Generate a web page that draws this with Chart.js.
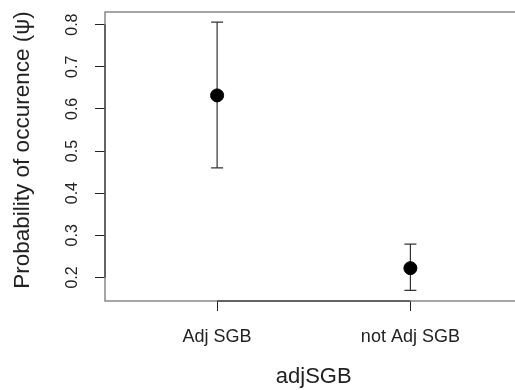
<!DOCTYPE html>
<html>
<head>
<meta charset="utf-8">
<script src="https://cdn.jsdelivr.net/npm/chart.js@4/dist/chart.umd.min.js"></script>
<style>
  html, body { margin: 0; padding: 0; background: #fff; overflow: hidden; }
  #wrap { width: 530px; height: 390px; }
</style>
</head>
<body>
<div id="wrap"><canvas id="myChart"></canvas></div>
<script>
const categories = ['Adj SGB', 'not Adj SGB'];
const psi = [0.632, 0.222];
const lower = [0.460, 0.169];
const upper = [0.806, 0.279];
const yTicks = [0.2, 0.3, 0.4, 0.5, 0.6, 0.7, 0.8];
const yTitle = 'Probability of occurence (ψ)';

const FONT = "'Liberation Sans', Arial, sans-serif";
const INK = '#222';

// box, axis lines, rotated y labels/title and error bars
const rStyle = {
  id: 'rStyle',
  beforeDatasetsDraw(chart) {
    const { ctx, chartArea: a, scales: { x, y } } = chart;
    ctx.save();
    // grey frame (right side runs off the canvas)
    ctx.strokeStyle = '#888';
    ctx.lineWidth = 1.5;
    ctx.strokeRect(a.left, a.top, a.right - a.left, a.bottom - a.top);
    // axis lines between first and last tick
    ctx.strokeStyle = INK;
    ctx.lineWidth = 1;
    ctx.beginPath();
    ctx.moveTo(a.left, y.getPixelForValue(yTicks[0]));
    ctx.lineTo(a.left, y.getPixelForValue(yTicks[yTicks.length - 1]));
    ctx.moveTo(x.getPixelForValue(1), a.bottom);
    ctx.lineTo(x.getPixelForValue(categories.length), a.bottom);
    ctx.stroke();
    // y tick labels, rotated like R's las=0
    ctx.fillStyle = INK;
    ctx.textAlign = 'center';
    ctx.textBaseline = 'middle';
    ctx.font = '16px ' + FONT;
    yTicks.forEach(v => {
      ctx.save();
      ctx.translate(73, y.getPixelForValue(v));
      ctx.rotate(-Math.PI / 2);
      ctx.fillText(v.toFixed(1), 0, 0);
      ctx.restore();
    });
    // y axis title
    ctx.save();
    ctx.font = '22.5px ' + FONT;
    ctx.translate(23, 150);
    ctx.rotate(-Math.PI / 2);
    ctx.fillText(yTitle, 0, 0);
    ctx.restore();
    // confidence intervals
    ctx.strokeStyle = '#333';
    ctx.lineWidth = 1.2;
    categories.forEach((c, i) => {
      const px = x.getPixelForValue(i + 1);
      const lo = y.getPixelForValue(lower[i]);
      const hi = y.getPixelForValue(upper[i]);
      ctx.beginPath();
      ctx.moveTo(px, lo); ctx.lineTo(px, hi);
      ctx.moveTo(px - 6, lo); ctx.lineTo(px + 6, lo);
      ctx.moveTo(px - 6, hi); ctx.lineTo(px + 6, hi);
      ctx.stroke();
    });
    ctx.restore();
  }
};

const data = {
  datasets: [{
    data: psi.map((v, i) => ({ x: i + 1, y: v })),
    backgroundColor: '#000',
    borderColor: '#000',
    pointRadius: 6.5,
    pointHoverRadius: 6.5,
  }]
};

const config = {
  type: 'scatter',
  data: data,
  options: {
    responsive: true,
    maintainAspectRatio: false,
    animation: false,
    layout: { padding: { top: 12, right: 7, left: 0, bottom: 0 } },
    plugins: { legend: { display: false }, tooltip: { enabled: false } },
    scales: {
      x: {
        type: 'linear',
        min: 0.42,
        max: 2.58,
        afterBuildTicks: s => { s.ticks = categories.map((c, i) => ({ value: i + 1 })); },
        afterFit: s => { s.height = 89; },
        ticks: {
          callback: v => categories[v - 1],
          font: { family: FONT, size: 18 },
          color: INK,
          padding: 15,
          maxRotation: 0,
          autoSkip: false,
        },
        grid: { drawOnChartArea: false, drawTicks: true, tickLength: 10, color: INK },
        border: { display: false },
        title: {
          display: true,
          text: 'adjSGB',
          font: { family: FONT, size: 22 },
          color: INK,
          padding: { top: 0, bottom: 0 },
        },
      },
      y: {
        min: 0.144,
        max: 0.830,
        afterBuildTicks: s => { s.ticks = yTicks.map(v => ({ value: v })); },
        afterFit: s => { s.width = 105; },
        ticks: { display: false },
        grid: { drawOnChartArea: false, drawTicks: true, tickLength: 10, color: INK },
        border: { display: false },
      },
    },
  },
  plugins: [rStyle],
};

const myChart = new Chart(document.getElementById('myChart'), config);
</script>
</body>
</html>
